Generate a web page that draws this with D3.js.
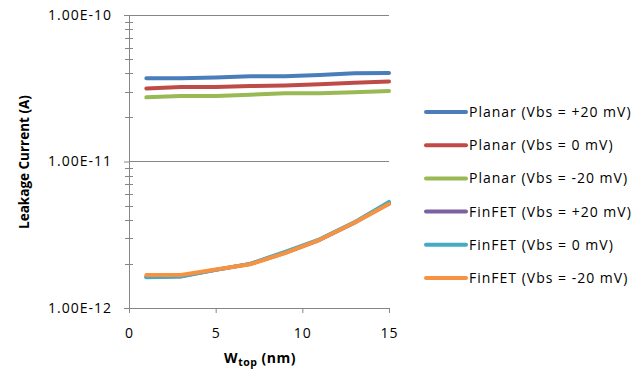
<!DOCTYPE html>
<html>
<head>
<meta charset="utf-8">
<script src="https://cdn.jsdelivr.net/npm/d3@7"></script>
<style>
	body { margin: 0; background: #fff; }
	svg { font-family: "Open Sans", sans-serif; }
</style>
</head>
<body>
<svg id="chart" width="642" height="375"></svg>
<script>
// W_top values (nm)
var wTop = [1, 3, 5, 7, 9, 11, 13, 15];

// leakage current (A) per series
var planarPos20 = [3.70e-11, 3.70e-11, 3.75e-11, 3.82e-11, 3.82e-11, 3.90e-11, 4.00e-11, 4.02e-11];
var planarZero = [3.15e-11, 3.22e-11, 3.22e-11, 3.27e-11, 3.30e-11, 3.37e-11, 3.45e-11, 3.52e-11];
var planarNeg20 = [2.74e-11, 2.80e-11, 2.80e-11, 2.86e-11, 2.92e-11, 2.92e-11, 2.97e-11, 3.03e-11];
var finfetPos20 = [1.63e-12, 1.65e-12, 1.82e-12, 2.00e-12, 2.38e-12, 2.92e-12, 3.82e-12, 5.20e-12];
var finfetZero = [1.62e-12, 1.64e-12, 1.82e-12, 2.00e-12, 2.42e-12, 2.94e-12, 3.84e-12, 5.30e-12];
var finfetNeg20 = [1.68e-12, 1.68e-12, 1.83e-12, 1.99e-12, 2.37e-12, 2.92e-12, 3.82e-12, 5.12e-12];

var seriesNames = [
	"Planar (Vbs = +20 mV)",
	"Planar (Vbs = 0 mV)",
	"Planar (Vbs = -20 mV)",
	"FinFET (Vbs = +20 mV)",
	"FinFET (Vbs = 0 mV)",
	"FinFET (Vbs = -20 mV)"
];
var seriesValues = [planarPos20, planarZero, planarNeg20, finfetPos20, finfetZero, finfetNeg20];
var seriesColors = ["#4A7EBB", "#BE4B48", "#98B954", "#7D60A0", "#46AAC5", "#F69240"];

var xTicks = [0, 5, 10, 15];
var yTicks = [1e-12, 1e-11, 1e-10];

var svg = d3.select("#chart");

var x = d3.scaleLinear().domain([0, 15]).range([129, 389]);
var y = d3.scaleLog().domain([1e-12, 1e-10]).range([308, 15]);

var axisColor = "#868686";

function fmtExp(v) {
	var e = Math.round(Math.log10(v));
	var m = v / Math.pow(10, e);
	return m.toFixed(2) + "E" + (e < 0 ? "-" : "+") + d3.format("02d")(Math.abs(e));
}

// gridlines
svg.append("g")
	.selectAll("line")
	.data(yTicks.slice(1))
	.join("line")
	.attr("x1", x(0))
	.attr("x2", x(15))
	.attr("y1", function(d) { return y(d); })
	.attr("y2", function(d) { return y(d); })
	.attr("stroke", axisColor)
	.attr("stroke-width", 1)
	.attr("shape-rendering", "crispEdges");

// minor ticks on the y axis
var minorTicks = [];
[1e-12, 1e-11].forEach(function(dec) {
	for (var k = 2; k <= 9; k++) minorTicks.push(dec * k);
});

svg.append("g")
	.selectAll("line")
	.data(minorTicks)
	.join("line")
	.attr("x1", x(0) - 4)
	.attr("x2", x(0) + 4)
	.attr("y1", function(d) { return Math.round(y(d)) + 0.5; })
	.attr("y2", function(d) { return Math.round(y(d)) + 0.5; })
	.attr("stroke", axisColor);

// y axis
var yAxis = svg.append("g")
	.attr("transform", "translate(" + x(0) + ",0)")
	.call(d3.axisLeft(y).tickValues(yTicks).tickSize(5).tickPadding(12).tickFormat(fmtExp));

// x axis
var xAxis = svg.append("g")
	.attr("transform", "translate(0," + y(1e-12) + ")")
	.call(d3.axisBottom(x).tickValues(xTicks).tickSize(5).tickPadding(15).tickFormat(d3.format("d")));

[yAxis, xAxis].forEach(function(a) {
	a.select(".domain").attr("stroke", axisColor);
	a.selectAll(".tick line").attr("stroke", axisColor);
	a.selectAll(".tick text")
		.attr("fill", "#000")
		.style("font-size", "14px")
		.style("letter-spacing", "1px")
		.style("font-family", "Open Sans, sans-serif");
});

// series lines
var line = d3.line()
	.x(function(d, i) { return x(wTop[i]); })
	.y(function(d) { return y(d); });

svg.append("g")
	.selectAll("path")
	.data(seriesValues)
	.join("path")
	.attr("d", line)
	.attr("fill", "none")
	.attr("stroke", function(d, i) { return seriesColors[i]; })
	.attr("stroke-width", 4)
	.attr("stroke-linecap", "round")
	.attr("stroke-linejoin", "round");

// legend
var legend = svg.append("g")
	.attr("transform", "translate(426,112)");

var item = legend.selectAll("g")
	.data(seriesNames)
	.join("g")
	.attr("transform", function(d, i) { return "translate(0," + (i * 33.2) + ")"; });

item.append("line")
	.attr("x1", 0)
	.attr("x2", 40)
	.attr("stroke", function(d, i) { return seriesColors[i]; })
	.attr("stroke-width", 4)
	.attr("stroke-linecap", "round");

item.append("text")
	.attr("x", 43)
	.attr("dy", "0.35em")
	.style("font-size", "14px")
	.style("letter-spacing", "1px")
	.text(function(d) { return d; });

// axis titles
svg.append("text")
	.attr("transform", "translate(29,162) rotate(-90)")
	.attr("text-anchor", "middle")
	.style("font-size", "13.5px")
	.style("font-weight", "bold")
	.text("Leakage Current (A)");

var xTitle = svg.append("text")
	.attr("x", 260)
	.attr("y", 363)
	.attr("text-anchor", "middle")
	.style("font-size", "14px")
	.style("font-weight", "bold")
	.style("letter-spacing", "0.5px");

xTitle.append("tspan").text("W");
xTitle.append("tspan")
	.attr("dy", 3)
	.style("font-size", "10.5px")
	.text("top");
xTitle.append("tspan")
	.attr("dy", -3)
	.text(" (nm)");
</script>
</body>
</html>
